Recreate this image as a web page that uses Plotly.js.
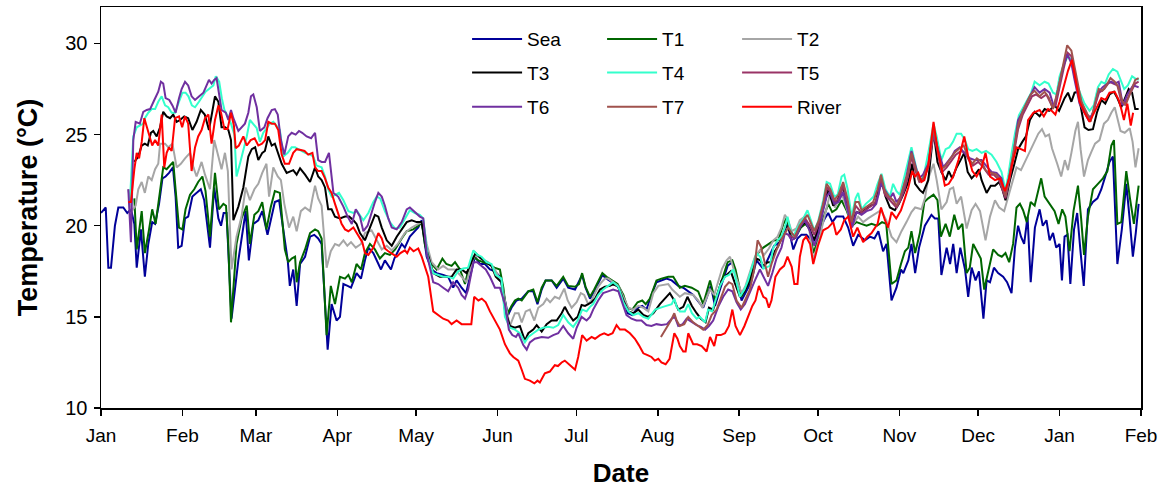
<!DOCTYPE html>
<html>
<head>
<meta charset="utf-8">
<script src="https://cdn.plot.ly/plotly-3.0.1.min.js"></script>
<style>html,body{margin:0;padding:0;background:#fff}#chart{width:1163px;height:488px}</style>
</head>
<body>
<div id="chart"></div>
<script>
// [day since 1 Jan, temperature °C]
const sea = [[0,20.7],[1.8,21.0],[2.8,17.7],[3.8,17.7],[5.3,20.0],[6.6,21.0],[8.5,21.0],[10,20.7],[11.4,20.9],[12.7,20.1],[13.6,17.7],[15.2,19.8],[16.7,17.2],[18,19.0],[19.5,20.2],[20.6,20.1],[22.1,21.2],[23.4,22.6],[24.6,22.7],[25.9,22.9],[27.4,23.2],[28.4,21.6],[29.4,18.8],[30.7,18.9],[32,20.4],[33.2,20.5],[34.8,21.6],[36.4,21.8],[38,22.0],[39.3,21.4],[41.5,18.8],[43.1,22.1],[44.7,20.4],[45.7,20.0],[46.7,20.7],[47.8,20.7],[49.7,14.9],[52.3,18.1],[55.1,20.8],[56.3,18.1],[58,20.1],[59.9,20.3],[61.4,20.8],[63.4,19.5],[66.2,21.3],[67.8,21.4],[71.1,18.1],[71.9,16.7],[73.2,17.6],[74.5,15.6],[75.8,17.9],[77.7,18.3],[79.6,19.4],[81.2,19.5],[82.7,19.3],[84,19.0],[86.3,13.2],[87.8,15.7],[89.7,14.8],[91,15.0],[92.3,16.8],[93.9,16.7],[95.2,16.6],[97.3,17.4],[99,17.1],[100.5,18.1],[101.8,18.8],[103.7,18.5],[106.6,17.6],[108.1,18.1],[110.4,17.6],[111.7,18.2],[114.5,19.0],[115.7,18.8],[117.6,19.4],[119.5,19.7],[120.8,19.9],[122.1,20.3],[124,18.3],[125.9,17.6],[127.8,17.4],[130.3,17.3],[132.2,17.2],[134.1,16.6],[135.4,17.0],[137.3,16.6],[139,16.3],[140.5,17.2],[142.4,18.3],[144.3,17.9],[146.2,17.9],[148.1,17.6],[150,17.5],[151.9,17.2],[153.8,15.8],[155,15.1],[156.3,15.5],[158.2,15.9],[160.2,16.0],[162.7,16.4],[164.6,16.4],[166.2,15.7],[167.8,16.5],[169.3,17.0],[171.6,17.0],[173.5,16.6],[176,17.1],[177.9,16.6],[180.5,16.5],[183.2,17.3],[184.5,16.6],[186.2,16.0],[187.8,16.4],[189.3,16.8],[190.9,17.3],[192.5,17.1],[194.4,16.9],[196.7,16.7],[198.9,16.0],[200.5,15.2],[202.3,15.1],[204.3,15.5],[206.1,15.6],[207.7,15.4],[209.6,16.2],[211.5,16.9],[215.3,17.1],[217.3,17.0],[219.8,16.7],[221.7,16.6],[225.5,16.2],[229.3,15.5],[232.2,16.7],[233.8,15.6],[235.7,16.5],[238.6,17.8],[240.4,18.0],[241.6,17.4],[243.9,15.9],[247.5,16.9],[249.6,18.1],[251.8,17.7],[253.4,18.0],[256.3,18.9],[258.5,19.1],[260.1,19.7],[261.4,20.1],[263.6,18.7],[265.2,19.3],[266.7,19.5],[268.6,19.5],[271.2,19.1],[273.5,19.8],[275.6,20.4],[276.9,20.7],[278.5,20.2],[280,20.5],[282.6,20.5],[284.5,19.9],[286.4,18.9],[288.3,19.5],[290.9,19.2],[292.8,19.4],[294.5,19.3],[296,19.7],[297.8,18.6],[299.1,19.0],[301,15.9],[302.9,16.6],[304.6,17.6],[305.5,17.4],[307.4,18.1],[308.6,19.0],[310,17.4],[311.5,18.8],[313.7,20.0],[316.2,20.6],[317.5,20.4],[318.8,20.4],[320,17.3],[322,18.8],[323.3,17.9],[324.5,19.0],[325.8,17.4],[327.2,18.8],[329,17.6],[330.2,16.1],[331.5,17.7],[333,17.0],[334.3,17.5],[336,14.9],[337.2,17.0],[338.5,16.9],[340,17.7],[341.6,17.4],[343.5,17.2],[345,16.9],[346.7,16.3],[348,18.8],[349.2,20.0],[350.3,19.4],[351.5,19.0],[352.8,20.5],[354,16.9],[355.6,19.9],[357.4,20.9],[358.6,20.0],[360,20.3],[361.2,19.2],[362.5,19.6],[363.7,18.8],[365,19.0],[365.9,17.0],[366.9,19.4],[368,19.5],[369.1,16.8],[370.5,19.8],[371.7,20.7],[372.9,18.7],[374.2,16.7],[375.8,20.9],[377.7,21.3],[379.4,21.5],[380.9,22.0],[382.8,22.9],[384,23.5],[385.3,23.8],[387,17.9],[388.7,19.8],[390.4,22.3],[391.6,20.5],[392.9,18.3],[394,19.6],[395.1,21.2]];

const t1 = [[12.7,21.5],[13.6,18.7],[15.5,20.8],[16.7,18.5],[18.3,19.8],[19.5,20.9],[20.8,20.1],[22.5,22.1],[23.7,23.2],[25,23.1],[26.3,23.3],[27.5,23.5],[28.4,22.0],[29.7,19.9],[31,19.8],[32.2,20.9],[33.9,21.7],[35.5,22.0],[37,22.4],[38.6,22.7],[39.8,21.9],[41.5,19.4],[43.4,22.9],[44.9,20.9],[46.6,21.2],[47.6,21.1],[48.5,18.9],[49.5,14.7],[51.6,19.0],[53.5,20.4],[55.5,21.1],[56.7,19.0],[58.4,20.6],[59.9,20.8],[61.4,21.3],[63,19.8],[64.6,21.0],[66.2,21.9],[68.1,21.8],[70,18.7],[71.3,18.0],[72.6,18.2],[73.9,18.3],[74.5,16.9],[75.8,18.0],[77.7,18.7],[79.6,19.6],[81.5,19.8],[82.7,19.7],[84,19.3],[85.9,14.0],[87.5,16.7],[89.1,15.7],[91,17.2],[92.9,17.1],[94.2,17.3],[95.5,16.9],[97.3,17.9],[99,17.6],[100.5,18.5],[102.4,19.0],[104.3,18.7],[106.2,18.2],[108.1,18.5],[110,18.4],[112,18.7],[114.5,19.3],[116.4,19.7],[118.9,19.8],[120.8,20.0],[122.1,20.2],[123.4,18.9],[125.3,18.0],[127.8,17.6],[130,18.2],[131.5,17.9],[133.5,17.8],[134.8,18.0],[136.7,17.6],[138.6,16.8],[140.1,17.7],[141.8,18.3],[143.7,18.1],[145.6,18.0],[147.5,17.9],[149.8,17.7],[151.9,17.6],[153.2,16.6],[154.5,15.1],[156.3,15.6],[157.6,15.9],[158.9,16.0],[160.2,15.9],[162.7,16.4],[164.6,16.5],[166.2,15.8],[167.8,16.6],[169.3,17.0],[171.6,17.0],[173.5,16.7],[176,17.2],[177.9,16.7],[180.5,16.65],[182,16.8],[183.2,17.4],[184.5,16.65],[186.2,16.1],[187.8,16.5],[189.3,16.9],[190.9,17.4],[192.5,17.2],[194.4,17.0],[196.7,16.8],[198.9,16.2],[200.5,15.5],[202.3,15.4],[204.3,15.8],[206.1,15.9],[207.4,15.7],[209,16.0],[211.5,17.0],[213.4,17.1],[216,17.2],[217.9,17.2],[220.4,16.6],[222.3,16.7],[224.9,16.6],[227.4,16.4],[229.3,15.7],[231.9,17.0],[233.8,15.9],[235.7,16.7],[238.6,18.0],[240.4,18.1],[241.6,17.6],[243.9,16.1],[245.4,16.5],[247.5,17.1],[249.6,18.4],[252.2,18.8],[254.3,19.0],[256.3,19.2],[257.9,19.2],[259.8,20.1],[261,20.4],[262.3,19.8],[264.2,19.3],[266.5,19.9],[268.2,20.1],[270,19.8],[271.2,18.5],[273,19.2],[275,20.4],[276.9,21.2],[278.4,20.75],[280,20.9],[282,21.4],[284,20.8],[286,20.0],[287.7,20.2],[289.5,20.1],[291.5,20.0],[293.4,20.1],[295.5,20.0],[297.4,20.2],[299,20.1],[301,16.8],[302.9,17.0],[304.6,17.9],[306.1,18.6],[307.4,18.8],[308.6,19.7],[310,18.5],[311.8,19.6],[313.5,21.3],[315,21.5],[317,21.7],[318.5,21.4],[319.8,19.4],[321.6,20.1],[323.2,19.4],[324.9,20.6],[326.4,19.8],[328,20.1],[329.6,17.4],[330.8,17.7],[332.1,19.0],[333.8,18.5],[335,18.2],[336.3,16.5],[338.1,17.75],[339.7,18.7],[341.6,18.4],[343,18.3],[344.4,18.5],[345.8,18.0],[347.3,19.0],[348.6,21.0],[349.9,21.2],[351.1,20.85],[352.5,20.2],[354,21.3],[355.5,21.1],[358,22.6],[359.3,21.6],[361.2,21.2],[363.1,20.8],[364.6,20.1],[366,20.9],[367.2,20.5],[368.8,18.6],[370.3,20.8],[372,22.2],[373.2,20.4],[374.3,18.4],[375.8,20.5],[377.7,22.0],[379.6,22.3],[381.5,22.6],[383.2,23.0],[384.7,24.4],[385.7,24.7],[387,20.1],[388.5,20.2],[390.4,23.0],[391.8,21.5],[393.3,20.1],[395.1,22.2]];

const t2 = [[10.4,22.0],[11.7,20.8],[13.2,21.1],[14.2,22.0],[15.5,22.4],[16.7,21.8],[18,22.7],[19.3,22.5],[20.6,23.1],[21.8,23.4],[22.5,24.5],[24.4,24.5],[25.6,24.3],[27.2,24.5],[28.8,23.2],[30.4,23.4],[32,23.7],[33.9,24.0],[35.2,23.2],[36.4,22.7],[38.3,23.5],[39.6,22.8],[41.5,22.0],[43.1,24.7],[44.7,23.8],[45.9,23.1],[47.2,24.0],[48.3,23.0],[49.7,17.6],[51.6,19.4],[53.5,20.5],[55.1,22.1],[56.7,21.4],[58.4,22.0],[59.9,22.3],[61.4,22.9],[63,23.4],[64,21.6],[65.6,23.2],[67.3,22.7],[68.5,22.5],[69.8,21.2],[71.6,19.9],[73.2,20.5],[74.5,19.7],[76.1,20.8],[77.7,21.0],[79.6,20.8],[80.5,21.5],[81.5,22.2],[82.7,21.5],[84,21.1],[85.9,17.7],[87.5,18.6],[89.1,19.0],[90.6,18.9],[92.3,19.2],[93.8,18.9],[95.2,19.1],[97,18.8],[99,19.0],[100.5,19.6],[103,19.75],[105,19.2],[106.9,18.7],[108.8,18.9],[110.7,18.65],[113,19.0],[115.7,19.6],[118.3,19.9],[120.8,20.1],[122.7,20.2],[124,19.0],[125.9,18.0],[128.4,17.6],[130.3,17.8],[132.2,17.6],[134.8,17.6],[137.3,17.2],[139.2,16.9],[141.1,17.9],[142.4,18.4],[144.9,18.2],[147.5,18.0],[150,17.6],[152.5,16.9],[154.4,15.4],[155.7,14.5],[157.6,15.2],[159,15.2],[160.2,14.7],[161.7,15.3],[163.3,15.4],[165,14.8],[166.5,15.5],[168.4,15.7],[169.7,16.0],[171,15.8],[172.8,16.1],[174.5,16.0],[176.4,16.55],[177.7,15.9],[179.2,15.5],[181.1,15.8],[182.7,16.3],[184,16.2],[185.5,15.7],[186.8,15.9],[188.1,16.3],[189.3,16.65],[190.6,16.9],[191.9,17.1],[193.1,17.1],[195,16.9],[197,16.7],[198.9,16.1],[200.8,15.5],[202.7,15.4],[204.6,15.6],[206.5,15.5],[208.4,15.3],[210.3,16.3],[212.2,16.7],[216,16.8],[217.5,16.5],[220.4,16.1],[222.3,16.3],[225.5,16.2],[227.4,15.9],[229,15.5],[231.9,16.5],[233.5,16.2],[236.5,17.65],[238.2,18.1],[239.5,18.3],[242,17.1],[243.9,16.3],[245.4,16.7],[247.1,17.4],[249,18.3],[250.9,18.66],[252.5,18.4],[254.3,18.75],[256,19.2],[257.6,19.4],[259.1,19.9],[260.4,20.6],[261.6,20.3],[263,19.7],[264.8,19.85],[266.1,20.3],[268,20.5],[269.5,20.0],[271.2,18.1],[273.5,19.3],[275.6,20.5],[277.5,21.7],[279.5,21.0],[282,21.8],[284,20.9],[286,20.0],[288.3,20.5],[290.2,20.2],[292.1,20.4],[294.5,20.6],[297,20.85],[299,20.3],[301,19.4],[302.9,19.1],[304.8,19.7],[306.7,20.2],[308.6,20.75],[310,21.0],[312.4,20.9],[313.7,21.5],[315,22.6],[317,23.4],[318.2,22.5],[320,20.9],[322,21.3],[323.2,22.0],[324.5,22.1],[325.8,21.2],[327.5,21.6],[329.6,19.85],[331.5,20.85],[333,21.2],[334.7,20.8],[336.8,19.2],[338.5,20.5],[340.4,21.4],[342,21.0],[343.9,20.8],[345.5,21.6],[347.3,22.5],[348.6,23.2],[350.3,23.05],[351.8,23.5],[353,23.8],[354.9,24.4],[356.9,25.05],[358.3,25.3],[359.6,24.9],[361,25.0],[362.1,24.25],[364.1,23.4],[365.6,22.7],[367,23.6],[368.2,23.05],[369.5,24.0],[371,25.2],[372,25.7],[373,24.2],[374.3,22.7],[375.8,23.6],[377.1,24.05],[378.5,24.5],[380.2,24.7],[381.9,25.6],[383.4,25.8],[384.7,26.2],[386,26.5],[387,25.9],[388.2,25.2],[389.8,25.1],[391.7,25.35],[392.8,24.6],[393.9,23.2],[395.1,24.25]];

const t3 = [[12.7,23.5],[14.2,23.8],[15.5,24.4],[16.7,24.5],[17.8,24.4],[19,25.1],[19.9,25.2],[21.2,24.9],[22.5,25.4],[23.7,26.25],[25,26.0],[26.3,25.9],[27.5,26.1],[28.8,25.7],[30.1,25.8],[31.7,26.0],[33.2,25.9],[34.8,25.25],[36.4,25.7],[38,26.35],[39.5,26.1],[41.1,25.25],[42.3,26.2],[43.4,27.1],[44.7,26.8],[45.9,25.4],[47.3,25.4],[48.5,25.25],[49.5,24.7],[50.4,20.3],[52.3,21.05],[54.2,22.1],[56.1,23.8],[57.4,24.2],[58.7,24.3],[59.9,23.6],[61.4,24.0],[62.4,24.1],[63.7,24.9],[65,24.4],[66.2,24.5],[67.5,23.9],[68.8,23.4],[70.7,22.9],[72,23.0],[73.2,23.05],[74.5,22.8],[75.8,23.15],[77.7,22.8],[79.6,22.4],[81.5,23.2],[82.7,22.7],[84,22.5],[85.3,22.1],[86.5,20.9],[87.8,20.9],[89.1,20.5],[91,20.4],[92.9,20.5],[94.5,20.5],[96.1,20.3],[97.3,20.1],[98.6,19.6],[100.5,19.2],[102.4,19.9],[104.3,20.6],[105.6,20.5],[106.9,19.9],[108.8,19.2],[110.7,18.9],[112.6,19.4],[114.5,19.8],[116.4,20.2],[118.3,20.3],[120.2,20.2],[122.1,20.2],[124,18.65],[126.5,17.4],[129,17.2],[131,17.2],[133.5,17.2],[135.4,17.6],[137.3,17.6],[139.2,17.4],[141.1,18.0],[142.6,18.5],[144.7,18.2],[146.8,18.0],[148.7,17.8],[150.3,17.2],[152.5,16.9],[153.8,15.4],[155.7,14.5],[157.6,14.4],[159.5,14.5],[161.4,13.7],[162.7,14.1],[164.6,14.3],[165.9,14.55],[167.8,14.2],[169.7,14.6],[171.6,14.8],[173.5,14.8],[175.4,15.2],[176.6,15.55],[177.9,15.2],[179.8,14.8],[181.5,15.0],[183,15.65],[184.3,15.6],[185.5,15.7],[186.8,15.8],[188.1,16.0],[190,16.5],[191.9,16.65],[193.8,16.7],[195,16.8],[197,16.65],[198.9,15.9],[200.8,15.3],[202.7,15.2],[204.6,15.4],[206.5,15.1],[208.4,15.0],[210.3,15.2],[212.8,15.7],[216.6,16.3],[218.3,15.9],[219.8,15.4],[221.7,15.55],[223.3,16.1],[225,15.6],[226.8,15.2],[228.4,14.9],[230.2,14.7],[231.5,15.5],[233.1,15.4],[236.3,17.0],[238.2,17.3],[239.8,17.5],[241.5,16.8],[243.3,16.1],[245,16.4],[246.4,16.8],[248,17.5],[249.6,18.2],[251,18.1],[252.2,17.8],[253.8,18.0],[255,18.0],[256.6,18.6],[257.9,18.9],[259.4,19.4],[260.7,20.0],[261.8,19.9],[263,19.4],[264.8,19.6],[266.1,19.9],[268,20.2],[269.5,19.9],[271.6,19.2],[273.3,20.0],[275.4,21.2],[276.9,22.0],[278.8,21.1],[280.5,21.4],[282.2,22.2],[284,21.3],[285.8,20.2],[287.7,20.75],[289.3,20.7],[291.1,20.9],[293.1,21.1],[294.9,21.2],[297,22.7],[298.7,21.6],[300.4,21.0],[302.3,20.85],[303.8,21.2],[305.4,21.7],[307.4,22.4],[308.9,23.4],[310,22.3],[311.8,21.95],[313,21.8],[315,22.5],[317,25.2],[318.5,23.5],[320,22.95],[321.6,22.5],[322.8,23.0],[324.1,22.6],[325.8,23.2],[327.3,23.6],[328.7,24.0],[330,22.95],[331.5,22.6],[332.8,22.8],[334.3,23.1],[335.3,22.5],[337.2,21.8],[338.8,22.2],[340.4,22.2],[342,22.4],[343.2,22.0],[344.4,21.4],[346.1,22.5],[347.8,23.4],[349.2,24.2],[350.8,24.6],[352.2,24.9],[353.7,25.8],[355.5,26.25],[357.4,26.0],[359.3,26.4],[361,26.3],[363.1,26.6],[364.8,26.3],[366.9,27.0],[368.2,27.3],[369.5,26.8],[370.7,27.3],[372,27.35],[373.3,26.35],[374.5,25.4],[376,25.25],[377.7,25.3],[379.2,26.2],[380.9,26.9],[382.4,26.7],[384,27.2],[385.7,27.35],[387,27.0],[388.5,26.5],[389.8,27.0],[391.3,27.5],[392.6,27.3],[393.8,26.4],[395.1,26.4]];

const t4 = [[11,21.3],[12.3,24.9],[13.6,25.4],[14.8,25.5],[16.1,25.6],[16.7,25.9],[18,26.2],[19.3,26.4],[20.6,26.4],[21.8,26.8],[23.1,27.1],[24.4,26.6],[25.6,26.5],[26.9,26.2],[28.2,26.2],[29.7,26.8],[31,27.3],[32.2,27.3],[33.3,27.1],[34.6,26.6],[35.8,26.5],[37.3,26.8],[38.6,27.1],[39.8,27.35],[41.1,27.5],[42.8,27.7],[43.7,28.2],[45,27.9],[46,27.0],[47,26.35],[48.3,26.0],[49.5,25.6],[50.8,25.0],[51.6,22.7],[52.9,23.4],[54.2,24.15],[55.5,24.9],[56.7,25.8],[58,25.6],[59.3,25.35],[60.5,24.6],[61.8,25.1],[63.1,25.35],[64.3,25.6],[65.6,25.7],[66.8,25.5],[68.1,25.25],[69.4,23.8],[71.1,24.0],[72.6,24.3],[73.9,24.3],[75.1,24.2],[76.4,24.1],[77.7,24.0],[79.6,23.9],[80.8,23.8],[82.1,23.3],[84,23.2],[85.3,22.7],[86.5,22.0],[87.8,21.6],[89.1,21.7],[90.6,21.8],[92.3,21.4],[94.2,20.8],[96.1,20.7],[97.5,20.8],[99.9,20.3],[101.8,20.7],[103.7,21.3],[105,21.6],[106.3,21.5],[108.1,20.8],[110,20.2],[111.9,19.85],[113.8,19.9],[115.7,20.4],[117.6,20.85],[119.5,20.7],[121.4,20.6],[122.7,20.4],[124.4,18.3],[126.5,17.4],[128.4,17.3],[130.3,17.2],[132.2,17.2],[134.1,17.1],[136,17.5],[137.9,17.65],[139.8,17.7],[141.8,18.65],[143.4,18.4],[144.9,18.3],[146.8,18.0],[148.7,17.9],[150.3,17.3],[152.5,17.1],[153.8,15.0],[155.7,14.4],[157.6,14.3],[159.5,14.1],[161.4,13.6],[162.7,13.9],[164.6,14.1],[166.5,14.3],[168.4,14.4],[170.3,14.45],[172.2,14.4],[174.1,14.55],[176,15.1],[177.9,14.7],[179.8,14.45],[181.5,14.8],[183.2,15.4],[184.9,15.3],[186.2,15.55],[187.4,15.7],[189.3,16.2],[191.2,16.5],[193.1,16.7],[195,16.9],[197,16.65],[198.9,15.8],[200.8,15.3],[202.7,15.1],[204.6,15.2],[206.5,15.0],[208.4,14.9],[211,15.4],[214,15.55],[217.3,15.7],[218.3,16.0],[219.2,15.55],[220.4,15.3],[222.3,15.3],[223.6,15.7],[225,15.2],[226.8,14.9],[228,15.0],[230,14.7],[231.2,15.4],[232.7,15.3],[235.7,16.7],[237.6,17.2],[239.1,17.3],[240.8,17.6],[242,16.8],[243.3,16.1],[245,16.5],[246.4,17.0],[247.7,17.65],[249.6,18.5],[251,18.3],[252.2,17.65],[254.7,17.8],[256,18.8],[257.6,19.2],[259.1,19.4],[260.4,19.9],[261.4,20.5],[262.5,19.8],[263.6,19.4],[264.8,19.8],[266.1,20.1],[267.4,20.4],[269,20.85],[271.6,19.75],[273,20.2],[275,21.4],[276.3,22.4],[277.6,22.3],[279.2,21.6],[280.5,21.7],[282,22.7],[283,22.8],[284.3,22.0],[285.8,20.5],[287.3,21.5],[288.3,21.8],[289.6,20.9],[291.2,21.2],[292.8,21.4],[294.2,21.6],[295.7,22.3],[297.2,22.85],[298.7,22.0],[300.4,21.6],[301.6,22.3],[302.9,21.9],[304.2,21.7],[305.7,22.5],[307.1,23.4],[308.6,24.3],[309.9,23.5],[311.2,22.7],[312.4,22.5],[313.5,22.9],[315,24.0],[317,25.6],[318.2,24.9],[320,23.6],[321.6,24.2],[323,24.3],[324.4,24.6],[325.8,25.05],[327.5,25.05],[329,24.7],[330.2,24.2],[331.8,24.1],[333.4,24.2],[335.3,24.0],[337,24.1],[339.1,23.9],[341,23.5],[342.9,22.95],[344.4,21.95],[345.5,22.8],[346.7,23.96],[348,25.05],[349.5,26.05],[351.1,26.5],[352.8,26.9],[354.2,27.3],[355.5,27.9],[357.4,27.7],[359.3,27.9],[360.8,27.8],[362.5,27.3],[363.8,27.2],[365,28.2],[366.7,28.9],[368.2,29.3],[369.5,29.1],[370.7,28.2],[372.6,27.35],[374.5,26.7],[376.4,26.3],[378,26.6],[379.6,27.6],[380.9,27.9],[382.3,27.8],[383.7,28.3],[385.3,28.6],[387,28.45],[388.2,28.0],[389.6,27.5],[391,27.7],[392.6,28.2],[393.6,28.1],[395.1,28.0]];

const t5 = [[262,19.5],[264,19.3],[266,19.9],[268,20.4],[270,20.0],[271.6,19.5],[273.3,20.1],[275,21.1],[276.5,22.1],[278,21.8],[279.5,21.3],[281,21.5],[282.6,22.2],[284.2,21.3],[285.8,20.1],[287.3,21.1],[289.6,20.7],[292.4,21.0],[294.5,21.2],[296,21.7],[297,22.5],[298.5,21.7],[300.5,21.4],[302.9,21.0],[304.4,21.4],[306,22.0],[307.4,22.8],[308.6,23.8],[310.1,23.0],[311.6,22.4],[313,22.5],[315,23.2],[317,25.0],[318.5,24.1],[320,22.9],[322,23.2],[324,23.6],[325.5,23.9],[327.5,24.1],[329,24.0],[330.5,23.6],[332,23.3],[334,23.5],[336,23.2],[338,22.8],[340,22.8],[342,22.5],[344.4,21.5],[346,22.6],[347.5,23.8],[349.2,25.3],[351,26.1],[352.8,26.6],[354.5,27.1],[356,27.2],[358,27.0],[360,27.2],[362,26.6],[363.5,26.6],[365,27.7],[366.5,28.6],[368,29.5],[369.5,29.3],[370.8,28.3],[372.5,27.2],[374,26.5],[375.5,26.1],[377,25.9],[378.5,26.6],[380,27.3],[382,27.5],[384,27.9],[385.5,27.8],[387,27.7],[388.7,26.7],[390.3,26.8],[392,27.3],[393.8,27.8],[395.1,27.9]];

const t6 = [[10.4,22.0],[11.4,19.1],[12.3,24.7],[13.2,25.7],[14.8,25.6],[16.1,26.25],[17.4,26.35],[18.7,26.4],[20.3,26.9],[21.8,27.35],[22.8,27.9],[23.7,27.8],[24.6,27.0],[26,26.9],[27.2,26.6],[28.4,26.2],[29.7,27.0],[30.7,27.5],[32,27.9],[33.2,27.7],[34.5,27.1],[35.8,26.9],[37.4,27.1],[39,27.3],[40.2,27.7],[41.1,28.0],[42.1,27.8],[43.1,28.0],[44,28.1],[44.9,27.2],[45.9,26.35],[47.5,26.2],[48.5,25.8],[49.5,26.35],[50.4,25.9],[52.3,25.2],[54.8,25.6],[56.1,26.2],[57.1,27.1],[58,27.2],[59.3,26.5],[60.5,25.2],[62.2,25.4],[63.4,25.9],[65,26.35],[66.2,26.4],[67.3,26.1],[68.5,24.7],[69.8,23.9],[71.3,24.9],[72.6,25.1],[74.1,25.0],[75.4,25.2],[76.6,25.1],[78.3,24.9],[80,24.8],[81.5,25.1],[82.7,23.6],[84,23.5],[85.3,23.5],[86.8,24.0],[88.5,21.8],[90.3,21.6],[92.3,21.05],[93.9,20.5],[95.5,20.1],[97,20.9],[98.6,20.5],[99.9,19.7],[101.5,20.0],[103,20.75],[104.3,21.3],[105.6,21.8],[106.9,21.6],[108.1,21.1],[109.4,20.4],[110.7,19.9],[112.6,19.8],[114.5,20.2],[116.4,20.9],[117.6,21.0],[119.5,20.75],[121.4,20.5],[122.7,20.4],[124,18.5],[126.5,16.9],[128.4,16.8],[130.3,16.6],[132.2,16.4],[134.1,16.9],[136,16.6],[137.3,16.2],[138.6,16.0],[139.8,16.5],[141.8,18.0],[143.2,18.0],[144.7,17.8],[146.5,17.6],[148.1,17.2],[150,16.6],[151.9,16.6],[153.8,15.7],[155.3,14.3],[156.6,14.0],[158,13.9],[158.9,14.1],[160.8,13.45],[162.1,13.2],[163.3,13.6],[165.2,13.8],[167.8,13.9],[170.3,13.85],[172.2,14.0],[174.1,14.1],[176,14.5],[177.9,14.1],[179.8,13.8],[181.1,14.4],[183,15.0],[184.9,14.8],[186.2,15.0],[187.4,15.4],[189.3,15.9],[191.2,16.3],[193.1,16.4],[195,16.5],[197,16.4],[198.9,15.55],[200.1,15.1],[202,14.9],[203.9,14.8],[205.8,14.8],[207.7,14.55],[209.6,14.5],[211.5,14.6],[213.4,14.55],[215.5,14.6],[217.3,14.9],[218.5,15.0],[219.8,14.5],[221.5,14.6],[223,14.9],[225,14.7],[226.8,14.55],[228.4,14.45],[230,14.3],[231.5,14.5],[233.1,14.8],[235,15.55],[236.9,16.1],[238.8,16.5],[240.4,16.4],[242,15.8],[243.6,15.4],[245.2,15.7],[247.1,16.4],[249,17.0],[250.9,17.6],[252.4,17.2],[254,16.7],[255.6,17.4],[257.2,18.2],[259.1,18.8],[260.4,19.6],[261.7,19.5],[263,19.2],[264.8,19.4],[266.1,19.9],[268,20.3],[269.9,19.7],[271.6,18.9],[273.3,19.6],[275,20.85],[276.3,21.6],[277.5,21.85],[279.2,21.2],[280.8,21.3],[282.6,21.85],[284.2,20.9],[286,19.9],[287.7,20.75],[289.6,20.6],[291.5,20.8],[293.4,20.9],[295.2,21.2],[297,22.3],[298.7,21.9],[300.4,21.5],[301.6,21.8],[302.9,21.3],[304.6,21.6],[306.7,22.7],[308.6,24.1],[309.9,23.4],[311.4,22.6],[313,22.8],[315,23.4],[317,25.2],[318.5,24.3],[320.7,23.2],[322.5,23.5],[324,23.8],[325.1,24.1],[327,24.3],[328.7,24.0],[330.8,23.7],[332.8,23.6],[335.3,23.6],[337,23.3],[339.1,22.95],[341,22.9],[342.9,22.6],[344.4,21.6],[345.8,22.7],[347.5,24.0],[349.2,25.8],[351.1,26.3],[353,26.9],[355.5,27.6],[357.4,27.3],[359.3,27.5],[361.2,27.3],[362.9,26.5],[364.6,27.6],[366.3,28.7],[368,29.4],[369.5,28.9],[370.7,28.0],[372.6,26.7],[374.5,26.2],[376,25.8],[377.8,26.2],[379.6,27.3],[381.4,27.6],[383.2,27.8],[384.7,27.9],[386,27.8],[387.5,27.9],[389.1,26.6],[390.8,27.2],[393,27.7],[395.1,27.6]];

const t7 = [[213.2,13.9],[214.5,14.2],[215.7,14.55],[217,14.8],[218.3,15.2],[219.2,14.8],[220.4,14.5],[222.1,14.6],[223.6,15.0],[225.5,14.7],[227.4,14.5],[229.3,14.3],[231,14.55],[232.5,15.1],[234.4,15.4],[236,16.0],[237.6,16.65],[239.1,16.9],[240.4,16.8],[242,15.9],[243.9,15.5],[245.2,15.9],[247.1,16.5],[248.7,17.6],[250,19.2],[251.3,18.85],[252.6,18.0],[254,17.2],[255.3,17.9],[257.2,18.66],[258.9,19.2],[260.4,19.6],[261.7,19.9],[263,19.6],[264.2,19.4],[266,20.0],[267.5,20.3],[269,20.6],[271.6,19.7],[273.3,20.3],[275,21.2],[276.3,22.3],[277.7,22.0],[279.2,21.4],[280.8,21.7],[282.6,22.4],[284.2,21.5],[285.8,20.2],[287.3,21.3],[288.5,21.3],[289.6,20.85],[291,21.0],[292.4,21.1],[294,21.3],[295.7,22.0],[297,22.8],[298.5,21.85],[300,21.6],[301.6,21.4],[302.9,21.1],[304.2,21.5],[305.8,22.2],[307.4,23.0],[308.6,24.0],[310.1,23.2],[311.4,22.5],[313,22.6],[315,23.3],[317,25.3],[318.5,24.3],[320,23.1],[321.7,23.3],[323.5,23.7],[325,24.0],[326.5,24.2],[328.5,24.4],[330,23.8],[331.8,23.4],[333.5,23.7],[335.3,23.5],[337,23.0],[339,22.9],[341,22.8],[342.8,22.4],[344.4,21.6],[346,22.8],[347.5,24.0],[349.2,25.5],[351,26.3],[352.8,26.8],[354,27.2],[355.5,27.4],[357.4,27.1],[359.3,27.35],[361,27.0],[362.5,26.4],[364.3,27.4],[365.9,28.5],[367.9,29.9],[369.5,29.6],[370.8,28.6],[372,27.6],[373.3,26.8],[375.2,26.25],[376.8,25.7],[378.3,26.6],[379.9,27.5],[381.3,27.4],[382.8,27.7],[384.4,28.1],[386,27.9],[387.4,27.6],[388.7,26.9],[390.1,26.6],[391.6,27.2],[393.8,28.0],[395.1,28.1]];

const river = [[10.4,21.3],[11.4,21.3],[12.7,23.1],[13.6,24.0],[14.5,23.7],[15.5,24.6],[16.5,25.9],[17.4,25.4],[18.7,24.8],[19.5,24.4],[20.6,24.7],[21.8,24.4],[23.1,26.1],[24.1,23.2],[25,24.0],[25.9,24.3],[26.9,24.1],[28.2,25.9],[29.7,26.0],[30.9,25.4],[32,26.0],[33.2,25.6],[34.5,23.0],[35.8,24.3],[37,24.9],[38.3,25.25],[39.6,25.9],[40.9,26.1],[42.1,24.5],[43.4,25.8],[44.7,26.6],[45.7,26.2],[47,25.3],[48.2,25.3],[49.5,26.2],[50.6,25.5],[51.3,24.25],[52.5,24.4],[54.2,24.9],[55.5,24.4],[57,24.7],[58.5,24.8],[59.9,24.4],[61.3,24.5],[62.5,24.7],[63.7,25.7],[65,25.6],[66.2,25.6],[67.5,25.25],[68.8,23.9],[70,23.4],[71.6,23.4],[73.2,24.0],[74.5,24.2],[76.1,24.15],[77.5,24.1],[78.9,23.9],[80.5,24.0],[81.5,23.2],[82.7,23.0],[84,23.0],[85.3,22.6],[86.5,22.1],[87.8,21.8],[89.1,21.2],[90.3,20.7],[91.6,20.1],[92.9,19.8],[94.2,19.7],[96.1,19.9],[97.3,19.6],[98.6,19.3],[99.5,19.1],[100.5,18.5],[101.8,18.4],[103.7,18.8],[105.6,19.6],[106.9,19.3],[108.1,18.75],[109.4,18.6],[111.3,18.4],[112.6,18.3],[114,18.5],[115.7,18.65],[116.6,18.5],[117.6,18.8],[119,18.6],[120.8,18.75],[122.1,18.3],[123.4,17.7],[124.6,17.2],[126.5,15.3],[128.4,15.1],[130.3,14.9],[132.2,14.8],[133.5,14.6],[135.4,14.8],[137.3,14.6],[139.2,14.6],[141,14.6],[142.1,16.1],[143.7,15.9],[145,16.0],[146.5,15.8],[148.1,15.3],[150,14.8],[151.9,14.3],[153.8,13.5],[155.7,13.0],[157,12.8],[158.9,12.6],[160.2,12.1],[161.4,11.6],[163.3,11.5],[165,11.35],[166.2,11.5],[167.1,11.4],[169,11.9],[170.9,12.0],[172.8,12.35],[174,12.3],[175.4,12.5],[176.6,12.6],[178.6,12.35],[180.5,12.1],[181.7,12.8],[183.2,14.0],[184.9,13.7],[186.8,13.9],[188.1,13.8],[190,14.0],[191.6,14.1],[193.1,14.0],[194.8,14.1],[196.3,14.55],[197.6,14.3],[199.5,14.3],[201.4,14.1],[203.3,13.8],[204.8,13.45],[206.5,13.0],[208.1,12.9],[209.6,12.8],[210.9,12.6],[212.2,12.7],[213.4,12.5],[215,12.4],[216.5,12.7],[218.3,14.1],[219.5,13.8],[220.4,13.4],[221.7,13.1],[222.6,13.1],[223.6,14.1],[225.5,13.5],[227,13.5],[228.7,13.4],[230.6,13.1],[231.9,13.9],[233.5,13.4],[234.4,14.0],[236,14.0],[237.6,14.1],[239.1,14.5],[240.4,15.4],[241.6,14.5],[243.3,14.0],[245,14.5],[246.4,15.0],[248,15.6],[249.2,15.9],[250.5,16.7],[252.2,16.1],[253.3,16.0],[254.3,15.5],[255.3,15.9],[256.8,17.2],[258.5,17.6],[260.1,17.8],[261.4,18.3],[263,17.75],[264,16.8],[265.2,16.8],[266.1,18.3],[267.4,19.2],[268.5,19.4],[270,19.0],[271.2,17.9],[273,18.9],[275,19.75],[276.9,19.9],[278.8,20.2],[280,19.5],[281.7,19.8],[283,20.3],[284.5,20.5],[286.4,19.4],[288,19.9],[290.2,19.1],[291.8,19.4],[293.4,19.6],[295.7,20.1],[297,21.0],[298.5,20.3],[299.7,19.9],[301,20.75],[302.8,20.4],[304.6,20.85],[306.1,21.5],[307.4,22.1],[308.9,23.0],[309.9,22.7],[311.2,22.9],[312.4,22.4],[313.5,22.5],[315,23.3],[317,25.7],[318.5,24.2],[320,23.2],[321.3,22.2],[322.8,22.3],[324.5,22.7],[326.5,23.6],[328.7,24.9],[330.2,23.8],[331.8,23.0],[333.4,22.7],[335.3,23.2],[336.8,24.0],[338.5,22.7],[340.4,22.5],[342.3,22.6],[344.2,21.9],[345.8,22.6],[347.3,23.6],[348.6,24.3],[350.3,24.2],[351.8,24.1],[353,25.8],[355,26.2],[357.4,26.35],[359,26.0],[360.6,26.4],[362,26.3],[363.4,26.1],[365,26.8],[366.9,27.8],[368.2,28.5],[369.7,29.1],[371,28.0],[372.6,26.8],[374.5,26.2],[376.4,25.7],[378.5,26.3],[380.9,27.0],[382.5,26.9],[384,27.3],[386,27.35],[387.5,26.9],[388.5,26.4],[389.5,25.8],[390.8,26.7],[392.1,25.5],[393,26.2]];

const seriesNames = ['Sea','T1','T2','T3','T4','T5','T6','T7','River'];
const seriesData = [sea, t1, t2, t3, t4, t5, t6, t7, river];
const seriesColors = ['#000099','#006600','#A6A6A6','#000000','#33FFCC','#993366','#7030A0','#A0524D','#FF0000'];
const legendRows = ['legend','legend','legend','legend2','legend2','legend2','legend3','legend3','legend3'];
const monthTicks = ['Jan','Feb','Mar','Apr','May','Jun','Jul','Aug','Sep','Oct','Nov','Dec','Jan','Feb'];

const baseMs = Date.UTC(2011, 0, 1);
function dayToDate(d) {
  return new Date(baseMs + d * 86400000).toISOString().slice(0, 19).replace('T', ' ');
}
const tickDates = monthTicks.map((m, i) => new Date(Date.UTC(2011, i, 1)).toISOString().slice(0, 10));

const traces = seriesData.map((s, i) => ({
  type: 'scatter',
  mode: 'lines',
  name: seriesNames[i],
  x: s.map(p => dayToDate(p[0])),
  y: s.map(p => p[1]),
  line: {color: seriesColors[i], width: 2},
  legend: legendRows[i]
}));

const font = 'Liberation Sans, Arial, sans-serif';
const legendCommon = {
  orientation: 'h', xanchor: 'left', yanchor: 'middle', x: 0.352,
  font: {family: font, size: 19, color: '#000'},
  bgcolor: 'rgba(0,0,0,0)', borderwidth: 0,
  entrywidth: 70, entrywidthmode: 'pixels', itemwidth: 50,
  traceorder: 'normal'
};

const layout = {
  width: 1163, height: 488,
  margin: {l: 101, r: 22, t: 7, b: 80},
  paper_bgcolor: '#fff', plot_bgcolor: '#fff',
  showlegend: true,
  font: {family: font, color: '#000'},
  xaxis: {
    type: 'date',
    range: ['2011-01-01', '2012-02-01'],
    tickmode: 'array', tickvals: tickDates, ticktext: monthTicks,
    ticks: 'outside', ticklen: 6, tickwidth: 1.5, tickcolor: '#000',
    ticklabelstandoff: 4,
    showline: true, linecolor: '#000', linewidth: 1.5, mirror: true,
    showgrid: false, zeroline: false,
    tickfont: {family: font, size: 19, color: '#000'},
    title: {text: 'Date', font: {family: font, size: 26, color: '#000', weight: 'bold'}, standoff: 20}
  },
  yaxis: {
    range: [10, 32],
    tickvals: [10, 15, 20, 25, 30],
    ticks: 'outside', ticklen: 6, tickwidth: 1.5, tickcolor: '#000',
    ticklabelstandoff: 2,
    showline: true, linecolor: '#000', linewidth: 1.5, mirror: true,
    showgrid: false, zeroline: false,
    tickfont: {family: font, size: 20, color: '#000'},
    title: {text: 'Temperature (°C)', font: {family: font, size: 27, color: '#000', weight: 'bold'}, standoff: 20}
  },
  legend: Object.assign({}, legendCommon, {y: 0.920}),
  legend2: Object.assign({}, legendCommon, {y: 0.836}),
  legend3: Object.assign({}, legendCommon, {y: 0.751})
};

Plotly.newPlot('chart', traces, layout, {displayModeBar: false, staticPlot: true});
</script>
</body>
</html>
